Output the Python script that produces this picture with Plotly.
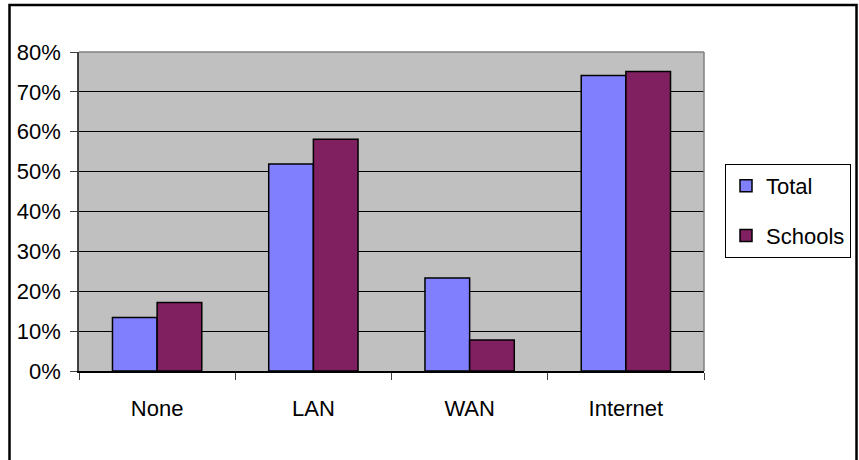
import plotly.graph_objects as go

categories = ["None", "LAN", "WAN", "Internet"]
total = [0.134, 0.519, 0.233, 0.741]
schools = [0.172, 0.581, 0.078, 0.751]
y_ticks = [0, 0.1, 0.2, 0.3, 0.4, 0.5, 0.6, 0.7, 0.8]

W, H = 859, 460
L, R, T, B = 79, 155, 52, 89
pw, ph = W - L - R, H - T - B

def px_x(x):
    return (x - L) / pw

def px_y(y):
    return (H - B - y) / ph

font = dict(family="Liberation Sans, Arial, sans-serif", size=22, color="black")

fig = go.Figure()
fig.add_trace(go.Bar(name="Total", x=categories, y=total, legendgroup="a",
                     marker=dict(color="#8080FF", line=dict(color="black", width=1.5))))
fig.add_trace(go.Bar(name="Schools", x=categories, y=schools, legendgroup="b",
                     marker=dict(color="#802060", line=dict(color="black", width=1.5))))

fig.update_layout(
    width=W, height=H,
    margin=dict(l=L, r=R, t=T, b=B, pad=0, autoexpand=False),
    paper_bgcolor="white",
    plot_bgcolor="#C0C0C0",
    font=font,
    barmode="group",
    bargap=1.5 / 3.5,
    bargroupgap=0,
    showlegend=True,
    legend=dict(
        x=px_x(725), xanchor="left",
        y=px_y(164), yanchor="top",
        bordercolor="black", borderwidth=1,
        bgcolor="white",
        traceorder="grouped",
        tracegroupgap=18,
        font=font,
        itemclick=False,
        itemwidth=30,
    ),
    xaxis=dict(
        type="category",
        automargin=False,
        showgrid=False,
        ticks="outside", ticklen=7, tickcolor="#404040", tickwidth=1,
        tickson="boundaries",
        showline=True, linecolor="black", linewidth=1.5,
        tickfont=font,
        ticklabelstandoff=17,
    ),
    yaxis=dict(
        range=[0, 0.8],
        automargin=False,
        tickvals=y_ticks,
        tickformat=".0%",
        showgrid=True, gridcolor="black", gridwidth=1,
        zeroline=False,
        ticks="outside", ticklen=7, tickcolor="#404040",
        showline=True, linecolor="#404040", linewidth=1.5,
        tickfont=font,
        ticklabelstandoff=5,
    ),
    shapes=[
        dict(type="line", xref="paper", yref="paper", x0=0, x1=1, y0=1, y1=1,
             line=dict(color="#808080", width=1.5), layer="above"),
        dict(type="line", xref="paper", yref="paper", x0=1, x1=1, y0=0, y1=1,
             line=dict(color="#808080", width=1.5), layer="above"),
        dict(type="rect", xref="paper", yref="paper",
             x0=px_x(9.5), x1=px_x(856.5), y0=px_y(5), y1=px_y(470),
             line=dict(color="black", width=2.5), layer="above"),
    ],
)

fig.write_html(
    "out.html",
    config={"displayModeBar": False},
    post_script="document.body.style.margin='0';",
)
